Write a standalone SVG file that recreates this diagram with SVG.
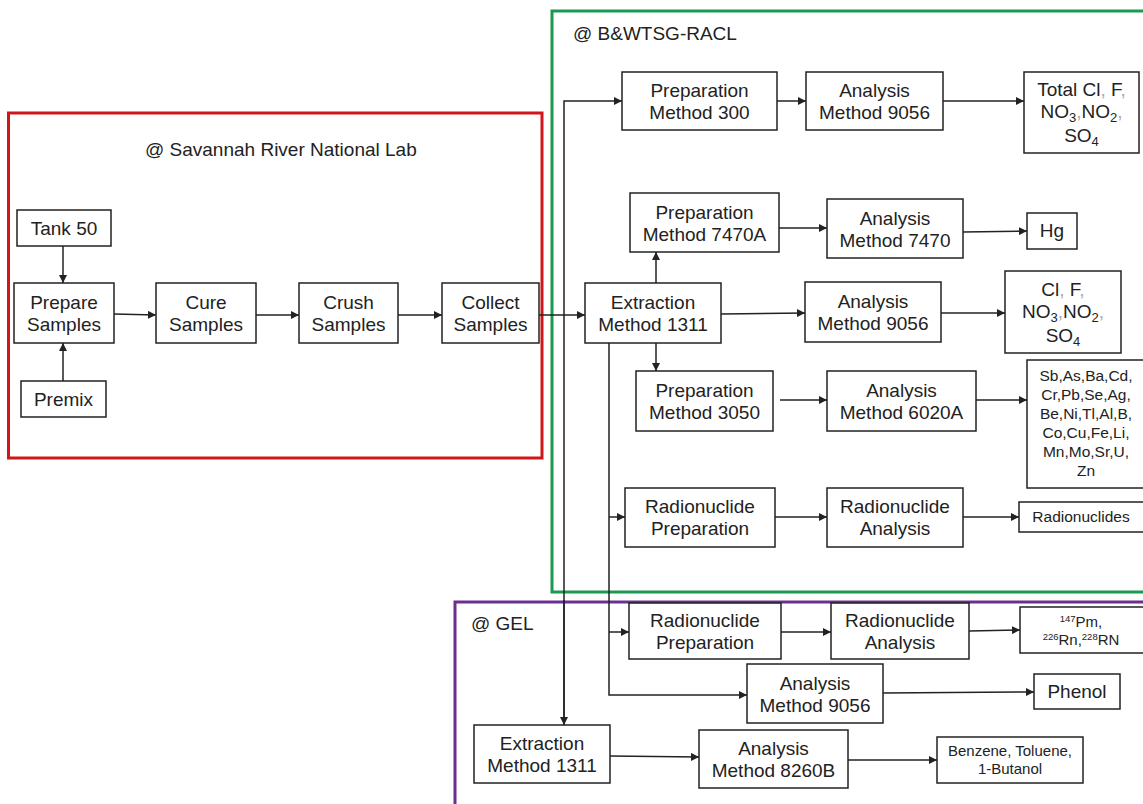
<svg xmlns="http://www.w3.org/2000/svg" width="1143" height="804" viewBox="0 0 1143 804">
<style>
.b{fill:#fff;stroke:#222;stroke-width:1.5}
.t{font-family:"Liberation Sans",Arial,sans-serif;font-size:19px;fill:#222;text-anchor:middle}
.s{font-family:"Liberation Sans",Arial,sans-serif;font-size:15.5px;fill:#222;text-anchor:middle}
.xs{font-family:"Liberation Sans",Arial,sans-serif;font-size:15px;fill:#222;text-anchor:middle}
.l{font-family:"Liberation Sans",Arial,sans-serif;font-size:19px;fill:#222}
.c{fill:none;stroke:#222;stroke-width:1.5}
.g{fill:#aaa}
</style>
<defs>
<marker id="a" viewBox="0 0 10 10" refX="10" refY="5" markerWidth="8" markerHeight="8" markerUnits="userSpaceOnUse" orient="auto"><path d="M0,0 L10,5 L0,10 z" fill="#222"/></marker>
</defs>
<rect width="1143" height="804" fill="#fff"/>
<g id="regions">
<rect x="8.5" y="113" width="533.5" height="345" fill="none" stroke="#d0161b" stroke-width="3"/>
<rect x="552" y="11" width="600" height="581" fill="none" stroke="#1a9a50" stroke-width="3"/>
<rect x="455" y="602" width="700" height="210" fill="none" stroke="#6a2f8f" stroke-width="3"/>
<text class="l" x="145" y="156">@ Savannah River National Lab</text>
<text class="l" x="573" y="40" font-size="20">@ B&amp;WTSG-RACL</text>
<text class="l" x="471" y="630">@ GEL</text>
</g>
<g id="connectors">
<line class="c" x1="63" y1="246" x2="63" y2="283" marker-end="url(#a)"/>
<line class="c" x1="63" y1="381" x2="63" y2="343" marker-end="url(#a)"/>
<line class="c" x1="114" y1="314" x2="156" y2="315" marker-end="url(#a)"/>
<line class="c" x1="256" y1="315" x2="299" y2="315" marker-end="url(#a)"/>
<line class="c" x1="398" y1="315" x2="442" y2="315" marker-end="url(#a)"/>
<line class="c" x1="539" y1="315" x2="585" y2="315" marker-end="url(#a)"/>
<polyline class="c" points="564,725 564,101 622,101" marker-end="url(#a)"/>
<line class="c" x1="564" y1="600" x2="564" y2="725" marker-end="url(#a)"/>
<line class="c" x1="777" y1="101" x2="806" y2="101" marker-end="url(#a)"/>
<line class="c" x1="943" y1="101" x2="1024" y2="101" marker-end="url(#a)"/>
<line class="c" x1="656" y1="283" x2="656" y2="252" marker-end="url(#a)"/>
<line class="c" x1="779" y1="228" x2="827" y2="228" marker-end="url(#a)"/>
<line class="c" x1="963" y1="232" x2="1027" y2="231" marker-end="url(#a)"/>
<line class="c" x1="721" y1="314" x2="805" y2="313" marker-end="url(#a)"/>
<line class="c" x1="941" y1="313" x2="1005" y2="313" marker-end="url(#a)"/>
<line class="c" x1="656" y1="343" x2="656" y2="371" marker-end="url(#a)"/>
<line class="c" x1="780" y1="400" x2="827" y2="400" marker-end="url(#a)"/>
<line class="c" x1="976" y1="400" x2="1027" y2="400" marker-end="url(#a)"/>
<polyline class="c" points="609,343 609,695 747,695" marker-end="url(#a)"/>
<line class="c" x1="609" y1="517" x2="625" y2="517" marker-end="url(#a)"/>
<line class="c" x1="609" y1="632" x2="629" y2="632" marker-end="url(#a)"/>
<line class="c" x1="775" y1="517" x2="827" y2="517" marker-end="url(#a)"/>
<line class="c" x1="963" y1="517" x2="1019" y2="517" marker-end="url(#a)"/>
<line class="c" x1="781" y1="632" x2="831" y2="632" marker-end="url(#a)"/>
<line class="c" x1="969" y1="631" x2="1020" y2="630" marker-end="url(#a)"/>
<line class="c" x1="883" y1="693" x2="1034" y2="692" marker-end="url(#a)"/>
<line class="c" x1="610" y1="756" x2="699" y2="757" marker-end="url(#a)"/>
<line class="c" x1="848" y1="760" x2="937" y2="760" marker-end="url(#a)"/>
</g>
<g id="tank50"><rect class="b" x="17" y="210" width="94" height="36"/><text class="t" x="64" y="235">Tank 50</text></g>
<g id="prepare"><rect class="b" x="14" y="283" width="100" height="60"/><text class="t" x="64" y="309">Prepare</text><text class="t" x="64" y="331">Samples</text></g>
<g id="premix"><rect class="b" x="21" y="381" width="85" height="36"/><text class="t" x="63.5" y="406">Premix</text></g>
<g id="cure"><rect class="b" x="156" y="283" width="100" height="60"/><text class="t" x="206" y="309">Cure</text><text class="t" x="206" y="331">Samples</text></g>
<g id="crush"><rect class="b" x="299" y="283" width="99" height="60"/><text class="t" x="348.5" y="309">Crush</text><text class="t" x="348.5" y="331">Samples</text></g>
<g id="collect"><rect class="b" x="442" y="283" width="97" height="60"/><text class="t" x="490.5" y="309">Collect</text><text class="t" x="490.5" y="331">Samples</text></g>
<g id="prep300"><rect class="b" x="622" y="72" width="155" height="58"/><text class="t" x="699.5" y="97">Preparation</text><text class="t" x="699.5" y="119">Method 300</text></g>
<g id="an9056a"><rect class="b" x="806" y="72" width="137" height="58"/><text class="t" x="874.5" y="97">Analysis</text><text class="t" x="874.5" y="119">Method 9056</text></g>
<g id="totalcl"><rect class="b" x="1024" y="72" width="115" height="81"/><text class="t" x="1081.5" y="96">Total Cl<tspan class="g">,</tspan> F<tspan class="g">,</tspan></text><text class="t" x="1081.5" y="118">NO<tspan font-size="13" dy="4">3</tspan><tspan dy="-4" class="g">,</tspan>NO<tspan font-size="13" dy="4">2</tspan><tspan dy="-4" class="g">,</tspan></text><text class="t" x="1081.5" y="142">SO<tspan font-size="13" dy="4">4</tspan></text></g>
<g id="prep7470a"><rect class="b" x="630" y="193" width="149" height="59"/><text class="t" x="704.5" y="219">Preparation</text><text class="t" x="704.5" y="241">Method 7470A</text></g>
<g id="an7470"><rect class="b" x="827" y="199" width="136" height="59"/><text class="t" x="895" y="225">Analysis</text><text class="t" x="895" y="247">Method 7470</text></g>
<g id="hg"><rect class="b" x="1027" y="213" width="50" height="36"/><text class="t" x="1052" y="237">Hg</text></g>
<g id="ext1311"><rect class="b" x="585" y="283" width="136" height="60"/><text class="t" x="653" y="309">Extraction</text><text class="t" x="653" y="331">Method 1311</text></g>
<g id="an9056b"><rect class="b" x="805" y="282" width="136" height="60"/><text class="t" x="873" y="308">Analysis</text><text class="t" x="873" y="330">Method 9056</text></g>
<g id="clf"><rect class="b" x="1005" y="271" width="116" height="82"/><text class="t" x="1063" y="296">Cl<tspan class="g">,</tspan> F<tspan class="g">,</tspan></text><text class="t" x="1063" y="318">NO<tspan font-size="13" dy="4">3</tspan><tspan dy="-4" class="g">,</tspan>NO<tspan font-size="13" dy="4">2</tspan><tspan dy="-4" class="g">,</tspan></text><text class="t" x="1063" y="342">SO<tspan font-size="13" dy="4">4</tspan></text></g>
<g id="prep3050"><rect class="b" x="636" y="371" width="137" height="60"/><text class="t" x="704.5" y="397">Preparation</text><text class="t" x="704.5" y="419">Method 3050</text></g>
<g id="an6020a"><rect class="b" x="827" y="371" width="149" height="60"/><text class="t" x="901.5" y="397">Analysis</text><text class="t" x="901.5" y="419">Method 6020A</text></g>
<g id="metals"><rect class="b" x="1027" y="360" width="121" height="128"/><text class="s" x="1086" y="381">Sb,As,Ba,Cd,</text><text class="s" x="1086" y="400">Cr,Pb,Se,Ag,</text><text class="s" x="1086" y="419">Be,Ni,Tl,Al,B,</text><text class="s" x="1086" y="438">Co,Cu,Fe,Li,</text><text class="s" x="1086" y="457">Mn,Mo,Sr,U,</text><text class="s" x="1086" y="476">Zn</text></g>
<g id="radprep1"><rect class="b" x="625" y="488" width="150" height="59"/><text class="t" x="700" y="513">Radionuclide</text><text class="t" x="700" y="535">Preparation</text></g>
<g id="radan1"><rect class="b" x="827" y="488" width="136" height="59"/><text class="t" x="895" y="513">Radionuclide</text><text class="t" x="895" y="535">Analysis</text></g>
<g id="radionuclides"><rect class="b" x="1019" y="502" width="130" height="30"/><text class="s" x="1081" y="522">Radionuclides</text></g>
<g id="radprep2"><rect class="b" x="629" y="603" width="152" height="56"/><text class="t" x="705" y="627">Radionuclide</text><text class="t" x="705" y="649">Preparation</text></g>
<g id="radan2"><rect class="b" x="831" y="603" width="138" height="56"/><text class="t" x="900" y="627">Radionuclide</text><text class="t" x="900" y="649">Analysis</text></g>
<g id="pm147"><rect class="b" x="1020" y="607" width="130" height="46"/><text class="xs" x="1081" y="627"><tspan font-size="9.5" dy="-5">147</tspan><tspan dy="5">Pm,</tspan></text><text class="xs" x="1081" y="645"><tspan font-size="9.5" dy="-5">226</tspan><tspan dy="5">Rn,</tspan><tspan font-size="9.5" dy="-5">228</tspan><tspan dy="5">RN</tspan></text></g>
<g id="an9056c"><rect class="b" x="747" y="664" width="136" height="59"/><text class="t" x="815" y="690">Analysis</text><text class="t" x="815" y="712">Method 9056</text></g>
<g id="phenol"><rect class="b" x="1034" y="674" width="86" height="35"/><text class="t" x="1077" y="698">Phenol</text></g>
<g id="ext1311gel"><rect class="b" x="474" y="725" width="136" height="58"/><text class="t" x="542" y="750">Extraction</text><text class="t" x="542" y="772">Method 1311</text></g>
<g id="an8260b"><rect class="b" x="699" y="730" width="149" height="58"/><text class="t" x="773.5" y="755">Analysis</text><text class="t" x="773.5" y="777">Method 8260B</text></g>
<g id="benzene"><rect class="b" x="937" y="737" width="146" height="46"/><text class="xs" x="1010" y="756">Benzene, Toluene,</text><text class="xs" x="1010" y="774">1-Butanol</text></g>
</svg>
